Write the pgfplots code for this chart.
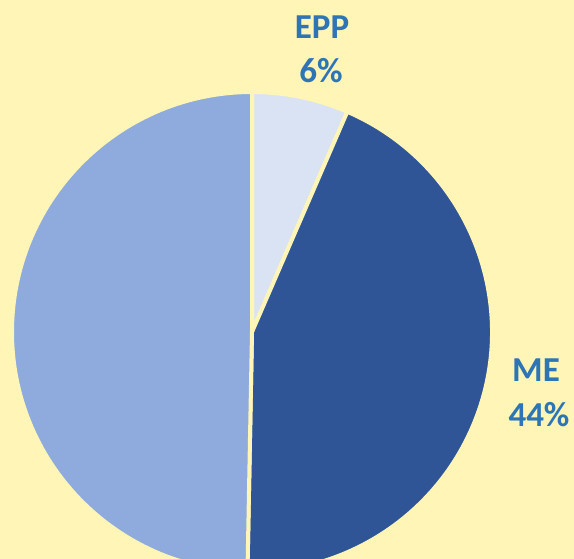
\documentclass[border=0pt]{standalone}
\usepackage{pgfplots}
\usepackage{pgfplotstable}
\pgfplotsset{compat=1.18}
\usepackage{fontspec}
\setmainfont{Carlito}
\definecolor{bgc}{HTML}{FFF5B7}
\definecolor{cEPP}{HTML}{DAE3F3}
\definecolor{cME}{HTML}{2F5597}
\definecolor{cOther}{HTML}{8FAADC}
\definecolor{txt}{HTML}{2E75B6}
\pgfplotstableread{
label value
EPP 6.5
ME 43.8
Other 49.7
}\piedata
\begin{document}
\begin{tikzpicture}
\pgfplotstablegetelem{0}{value}\of\piedata \let\va\pgfplotsretval
\pgfplotstablegetelem{1}{value}\of\piedata \let\vb\pgfplotsretval
\pgfplotstablegetelem{2}{value}\of\piedata \let\vc\pgfplotsretval
\pgfmathsetmacro{\aA}{90}
\pgfmathsetmacro{\aB}{90-3.6*\va}
\pgfmathsetmacro{\aC}{\aB-3.6*\vb}
\pgfmathsetmacro{\aD}{\aC-3.6*\vc}
\begin{axis}[name=ax, x=1pt, y=1pt, xmin=0, xmax=574, ymin=0, ymax=559,
  axis lines=none, ticks=none, clip=true]
\fill[bgc] (axis cs:0,0) rectangle (axis cs:574,559);
\fill[cEPP, draw=bgc, line width=4pt, line join=round] (axis cs:252,227) -- ++(\aA:240) arc[start angle=\aA, end angle=\aB, radius=240pt] -- cycle;
\fill[cME, draw=bgc, line width=4pt, line join=round] (axis cs:252,227) -- ++(\aB:240) arc[start angle=\aB, end angle=\aC, radius=240pt] -- cycle;
\fill[cOther, draw=bgc, line width=4pt, line join=round] (axis cs:252,227) -- ++(\aC:240) arc[start angle=\aC, end angle=\aD, radius=240pt] -- cycle;
\node[anchor=base, text=txt, font=\fontsize{35}{40}\selectfont\bfseries] at (axis cs:322,520) {EPP};
\node[anchor=base, text=txt, font=\fontsize{35}{40}\selectfont\bfseries] at (axis cs:321,476) {6\%};
\node[anchor=base, text=txt, font=\fontsize{35}{40}\selectfont\bfseries] at (axis cs:536,177) {ME};
\node[anchor=base, text=txt, font=\fontsize{35}{40}\selectfont\bfseries] at (axis cs:539,132) {44\%};
\end{axis}
\pgfresetboundingbox
\path (ax.south west) rectangle (ax.north east);
\end{tikzpicture}
\end{document}
